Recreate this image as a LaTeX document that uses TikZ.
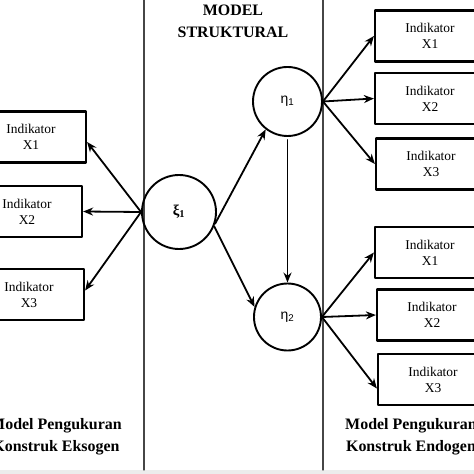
\documentclass[tikz,border=0pt]{standalone}
\usepackage{fontspec}
\setmainfont{Liberation Serif}
\newfontfamily\grk{Liberation Sans}
\usetikzlibrary{arrows.meta}
\begin{document}
\begin{tikzpicture}[>={Stealth[length=10bp,width=8bp]},line cap=round,line join=round,x=1bp,y=-1bp,
	ind/.style={draw,line width=2.2bp,minimum width=110bp,minimum height=51bp,align=center,inner sep=0pt,font=\fontsize{13.5}{16}\selectfont},
	lat/.style={draw,circle,line width=1.9bp,inner sep=0pt},
	arr/.style={->,line width=1.8bp},
	ttl/.style={align=center,font=\fontsize{16}{22}\selectfont\bfseries}]
	\useasboundingbox (0,0) rectangle (474,474);
	\clip (0,0) rectangle (474,474);
	% bagian tepi bawah dan garis pemisah
	\fill[gray!15] (0,470) rectangle (474,474);
	\draw[gray!55!black,line width=1.1bp] (144,0) -- (144,470);
	\draw[gray!55!black,line width=1.1bp] (323,0) -- (323,470);
	% konstruk laten
	\node[lat,minimum size=74bp] (xi) at (179,212) {\fontsize{15}{15}\selectfont\bfseries ξ\textsubscript{1}};
	\node[lat,minimum size=69bp] (eta1) at (287.5,101.5) {\grk\fontsize{14}{14}\selectfont η\textsubscript{1}};
	\node[lat,minimum size=67bp] (eta2) at (287.5,317) {\grk\fontsize{14}{14}\selectfont η\textsubscript{2}};
	% indikator eksogen
	\node[ind] (xa) at (31,137) {Indikator\\X1};
	\node[ind] (xb) at (27,211.5) {Indikator\\X2};
	\node[ind] (xc) at (29,294.5) {Indikator\\X3};
	% indikator endogen
	\node[ind] (ya) at (430,36) {Indikator\\X1};
	\node[ind] (yb) at (430,98.5) {Indikator\\X2};
	\node[ind] (yc) at (431,164) {Indikator\\X3};
	\node[ind] (za) at (430,252.5) {Indikator\\X1};
	\node[ind] (zb) at (432,315) {Indikator\\X2};
	\node[ind] (zc) at (433,379.5) {Indikator\\X3};
	% judul
	\node[ttl] (judul) at (233,21.5) {MODEL\\STRUKTURAL};
	\node[ttl] (eks) at (56,437) {Model Pengukuran\\Konstruk Eksogen};
	\node[ttl] (endo) at (411,437) {Model Pengukuran\\Konstruk Endogen};
	% panah
	\draw[arr] (xi.west) -- ([yshift=-5bp]xa.east);
	\draw[arr] (xi.west) -- (xb.east);
	\draw[arr] (xi.west) -- ([yshift=4bp]xc.east);
	\draw[arr] (xi.-18) -- (eta1.232);
	\draw[arr] (xi.-22) -- (eta2.163);
	\draw[arr,shorten <=3bp] (eta1.south) -- (eta2.north);
	\draw[arr] (eta1.east) -- (ya.west);
	\draw[arr] (eta1.east) -- (yb.west);
	\draw[arr] (eta1.east) -- (yc.west);
	\draw[arr] (eta2.east) -- (za.west);
	\draw[arr] (eta2.east) -- (zb.west);
	\draw[arr] (eta2.east) -- ([yshift=-9bp]zc.west);
\end{tikzpicture}
\end{document}
